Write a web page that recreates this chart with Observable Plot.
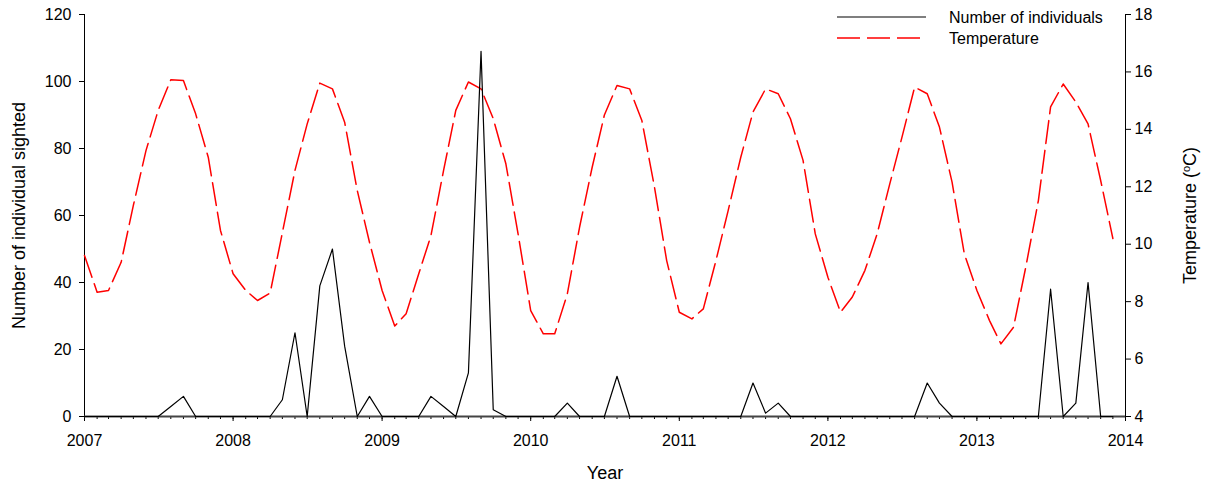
<!DOCTYPE html>
<html>
<head>
<meta charset="utf-8">
<script src="https://cdn.jsdelivr.net/npm/d3@7"></script>
<script src="https://cdn.jsdelivr.net/npm/@observablehq/plot@0.6"></script>
<style>
  html, body { margin: 0; padding: 0; background: #fff; }
  body { font-family: "Liberation Sans", Arial, sans-serif; }
  #wrap { position: relative; width: 1207px; height: 484px; }
  #legend { position: absolute; left: 0; top: 0; pointer-events: none; }
</style>
</head>
<body>
<div id="wrap">
  <div id="chart"></div>
  <svg id="legend" width="1207" height="60"></svg>
</div>
<script>
// ---------- data (monthly, Jan 2007 .. Dec 2013) ----------
const startDate = "2007-01-01";
const endDate = "2014-01-01";

const individuals = [
  0, 0, 0, 0, 0, 0, 0, 3, 6, 0, 0, 0,          // 2007
  0, 0, 0, 0, 5, 25, 0, 39, 50, 21, 0, 6,      // 2008
  0, 0, 0, 0, 6, 3, 0, 13, 109, 2, 0, 0,       // 2009
  0, 0, 0, 4, 0, 0, 0, 12, 0, 0, 0, 0,         // 2010
  0, 0, 0, 0, 0, 0, 10, 1, 4, 0, 0, 0,         // 2011
  0, 0, 0, 0, 0, 0, 0, 0, 10, 4, 0, 0,         // 2012
  0, 0, 0, 0, 0, 0, 38, 0, 4, 40, 0, 0         // 2013
];

const temperature = [
  9.61, 8.33, 8.39, 9.37, 11.35, 13.26, 14.66, 15.73, 15.70, 14.54, 13.03, 10.48, // 2007
  8.97, 8.39, 8.04, 8.30, 10.40, 12.57, 14.19, 15.61, 15.41, 14.25, 11.87, 10.07, // 2008
  8.39, 7.15, 7.58, 8.97, 10.30, 12.57, 14.66, 15.65, 15.41, 14.37, 12.80, 10.36, // 2009
  7.69, 6.88, 6.88, 8.27, 10.59, 12.68, 14.50, 15.53, 15.41, 14.31, 11.99, 9.43,  // 2010
  7.63, 7.40, 7.75, 9.43, 11.17, 13.03, 14.60, 15.41, 15.24, 14.37, 12.92, 10.36, // 2011
  8.85, 7.63, 8.16, 9.09, 10.36, 12.10, 13.73, 15.47, 15.24, 14.08, 12.16, 9.67,  // 2012
  8.39, 7.34, 6.53, 7.11, 9.20, 11.52, 14.78, 15.58, 14.95, 14.19, 12.22, 10.20   // 2013
];

const yearTicks = [2007, 2008, 2009, 2010, 2011, 2012, 2013, 2014];
const countTicks = [0, 20, 40, 60, 80, 100, 120];
const tempTicks = [4, 6, 8, 10, 12, 14, 16, 18];

const seriesNames = ["Number of individuals", "Temperature"];
const xLabel = "Year";
const yLabel = "Number of individual sighted";
const y2Label = "Temperature";

// ---------- build ----------
const t0 = new Date(startDate + "T00:00:00Z");
const t1 = new Date(endDate + "T00:00:00Z");
const months = d3.utcMonths(t0, t1); // 84 months
const allMonthTicks = d3.utcMonths(t0, d3.utcMonth.offset(t1, 1));
const yearDates = yearTicks.map(y => new Date(Date.UTC(y, 0, 1)));

const cMin = countTicks[0], cMax = countTicks[countTicks.length - 1];
const tMin = tempTicks[0], tMax = tempTicks[tempTicks.length - 1];
const toLeft = t => cMin + (t - tMin) * (cMax - cMin) / (tMax - tMin);
const fromLeft = v => tMin + (v - cMin) * (tMax - tMin) / (cMax - cMin);

const countRows = months.map((d, i) => ({date: d, value: individuals[i]}));
const tempRows = months.map((d, i) => ({date: d, value: temperature[i]}));

const font = '"Liberation Sans", Arial, sans-serif';

const chart = Plot.plot({
  width: 1207,
  height: 484,
  marginLeft: 84,
  marginRight: 82,
  marginTop: 14,
  marginBottom: 68,
  style: {fontFamily: font, fontSize: "16px", color: "#000", background: "#fff", overflow: "visible"},
  x: {type: "utc", domain: [t0, t1]},
  y: {domain: [cMin, cMax]},
  marks: [
    Plot.axisX({ticks: allMonthTicks, tickSize: 3, tickFormat: () => "", label: null, stroke: "#000"}),
    Plot.axisX({ticks: yearDates, tickSize: 5, tickPadding: 13, tickFormat: d => String(d.getUTCFullYear()),
      label: xLabel, labelAnchor: "center", labelOffset: 62, labelArrow: "none", fontSize: 16}),
    Plot.axisY({ticks: countTicks, tickSize: 5, tickPadding: 8, label: yLabel, labelAnchor: "center",
      labelOffset: 72, labelArrow: "none", fontSize: 16}),
    Plot.axisY({anchor: "right", ticks: tempTicks.map(toLeft), tickSize: 5, tickPadding: 4,
      tickFormat: v => String(Math.round(fromLeft(v))), label: y2Label, labelAnchor: "center",
      labelOffset: 70, labelArrow: "none", fontSize: 16}),
    Plot.ruleX([t0, t1], {stroke: "#000", strokeWidth: 1}),
    Plot.ruleY([cMin], {stroke: "#444", strokeWidth: 2}),
    Plot.line(tempRows, {x: "date", y: d => toLeft(d.value), stroke: "#ff0000", strokeWidth: 1.5,
      strokeDasharray: "23,7"}),
    Plot.line(countRows, {x: "date", y: "value", stroke: "#000", strokeWidth: 1.2})
  ]
});
document.getElementById("chart").appendChild(chart);

// axis title styling + superscript degree on right title
d3.select(chart).selectAll("text").each(function() {
  const el = d3.select(this);
  const txt = el.text();
  if (txt === xLabel || txt === yLabel || txt === y2Label) {
    el.style("font-size", "18px");
  }
  if (txt === y2Label) {
    el.text(null);
    el.append("tspan").text(y2Label + " (");
    el.append("tspan").attr("baseline-shift", "super").style("font-size", "11px").text("o");
    el.append("tspan").text("C)");
  }
});

// legend (top right, inside the plot)
const lg = d3.select("#legend");
const lx0 = 837, lx1 = 926, ltx = 949;
const rows = [
  {name: seriesNames[0], y: 17, stroke: "#000", dash: null, w: 1.2, x1: 926},
  {name: seriesNames[1], y: 38, stroke: "#ff0000", dash: "23,7", w: 1.5, x1: 920}
];
rows.forEach(r => {
  lg.append("line").attr("x1", lx0).attr("x2", r.x1).attr("y1", r.y).attr("y2", r.y)
    .attr("stroke", r.stroke).attr("stroke-width", r.w).attr("stroke-dasharray", r.dash);
  lg.append("text").attr("x", ltx).attr("y", r.y).attr("dy", "0.35em")
    .attr("font-family", font).attr("font-size", 16).attr("fill", "#000").text(r.name);
});
</script>
</body>
</html>
